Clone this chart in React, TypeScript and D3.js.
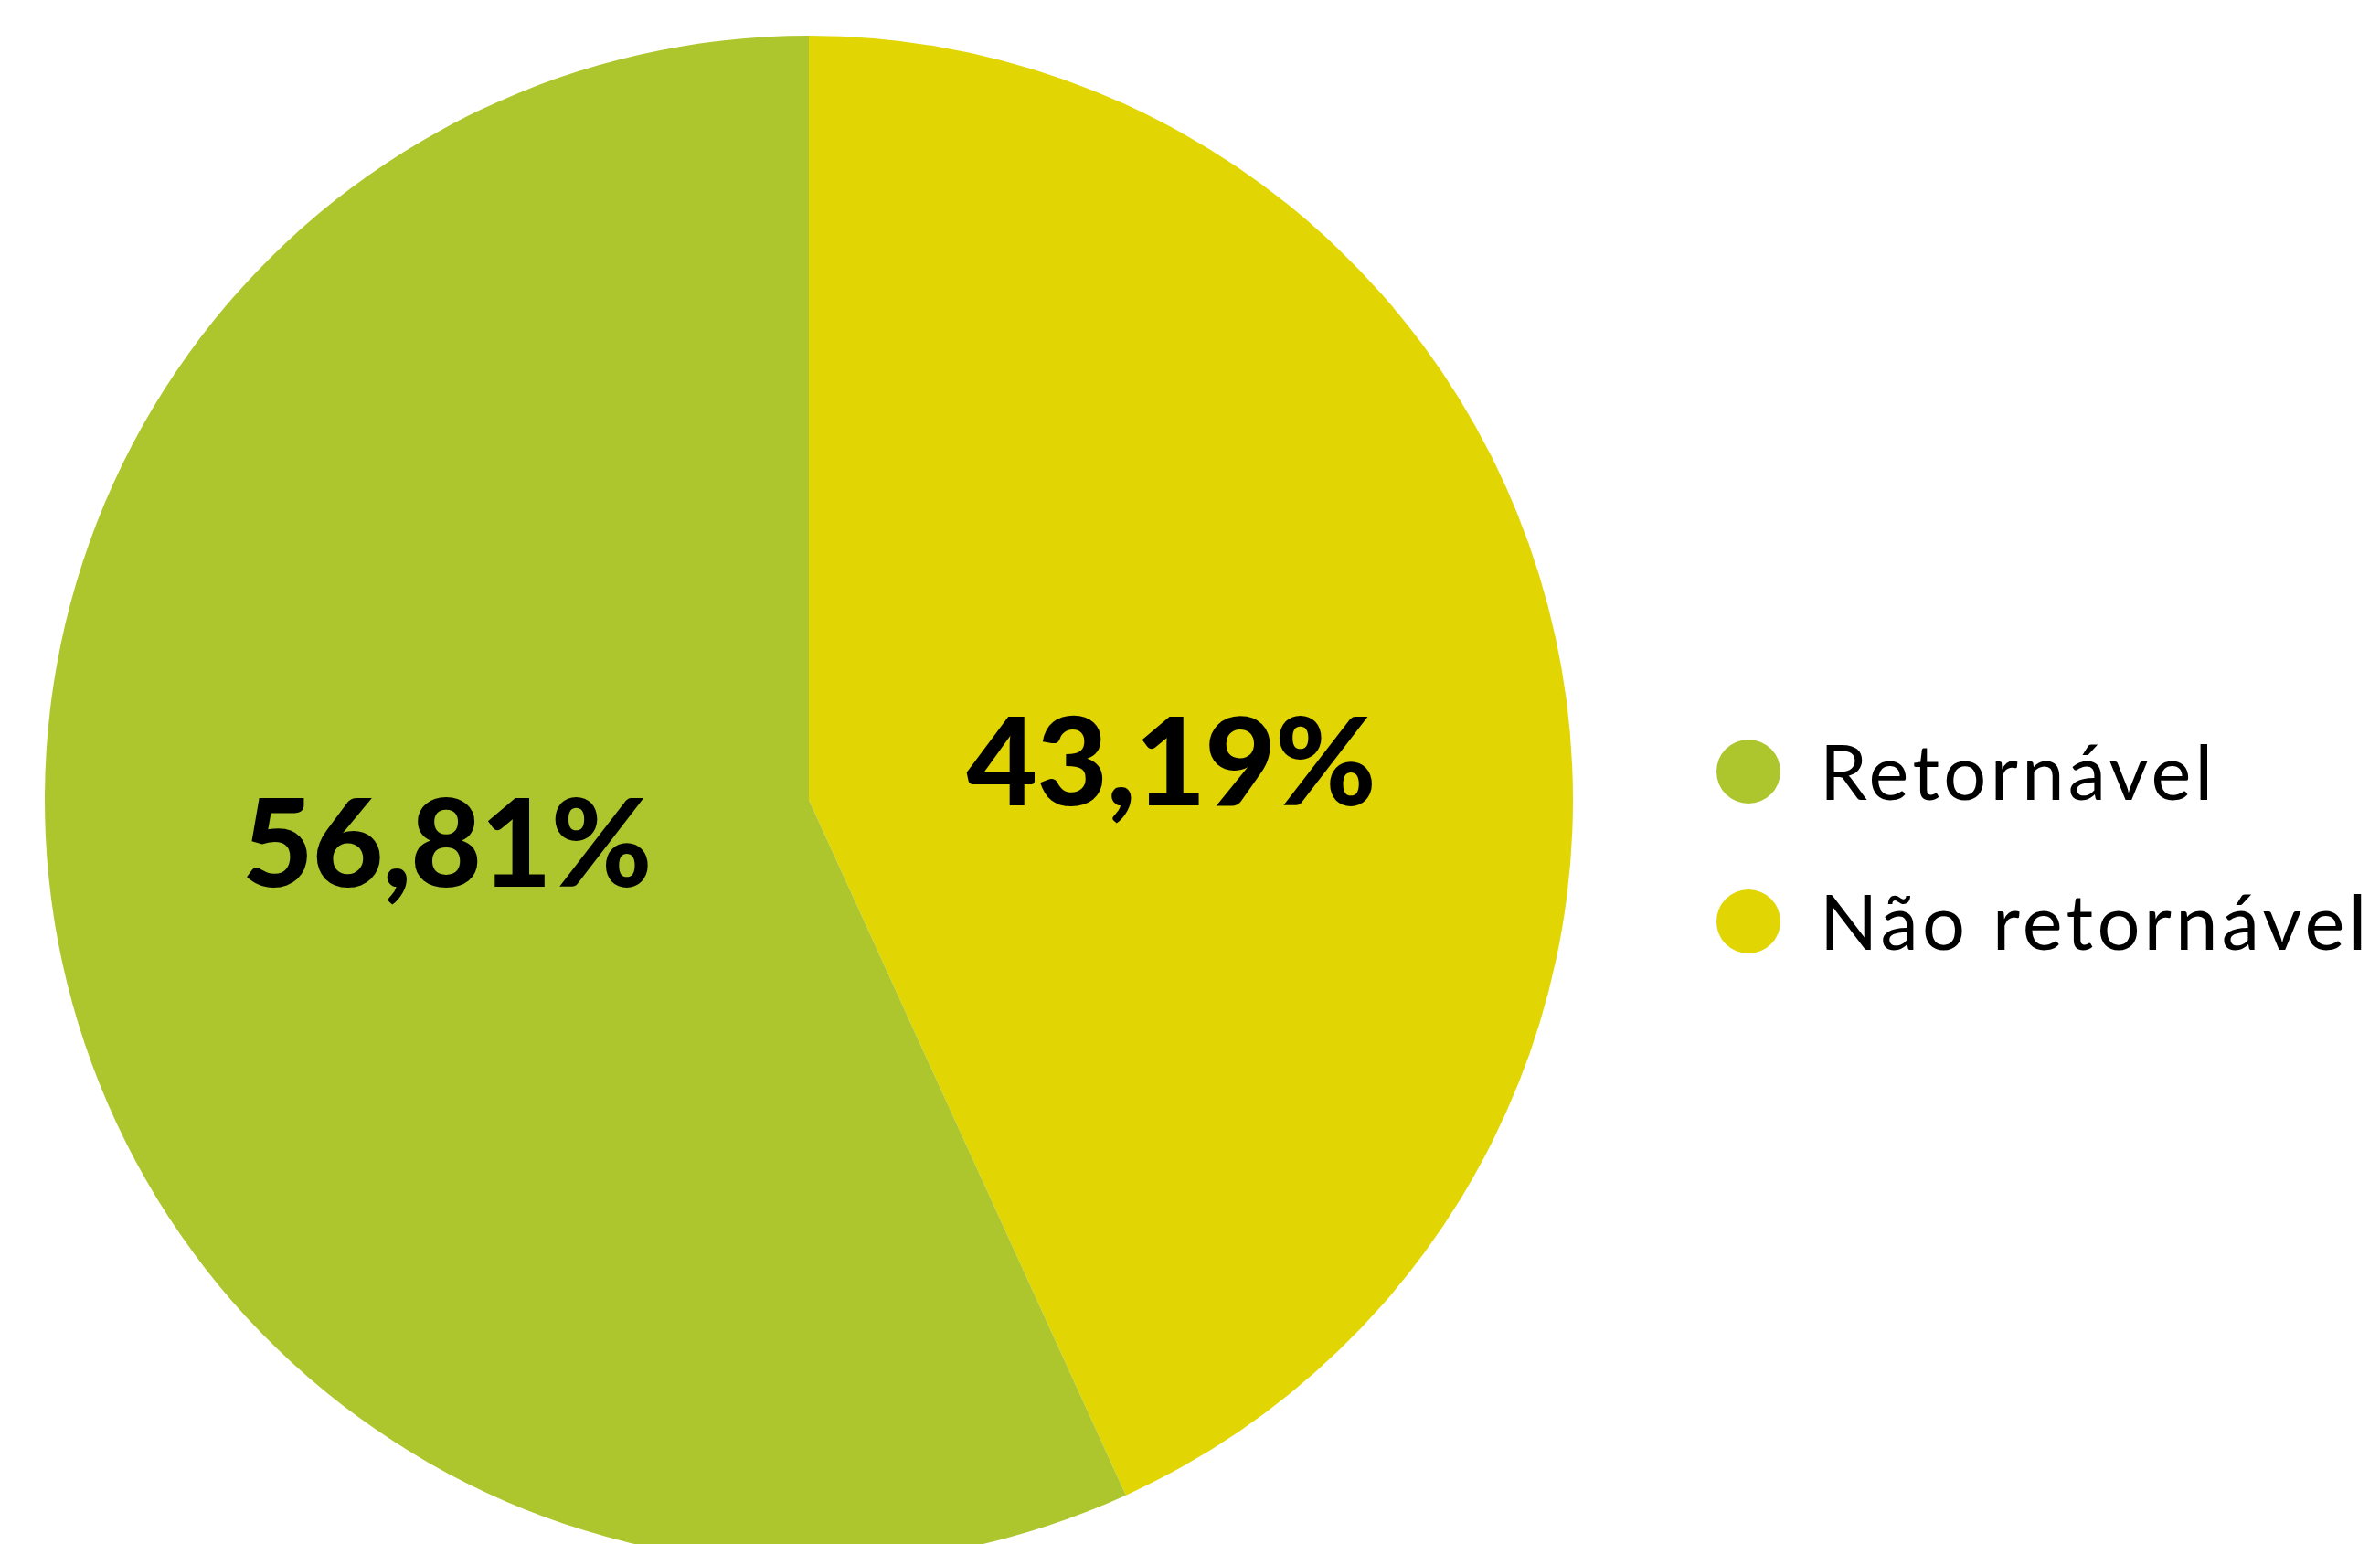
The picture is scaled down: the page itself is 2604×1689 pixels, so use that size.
import React from "react";
import * as d3 from "d3";

const categories = ["Retornável", "Não retornável"];
const values = [56.81, 43.19];
const valueLabels = ["56,81%", "43,19%"];
const colors = ["#AEC62D", "#E1D503"];

const W = 2604;
const H = 1689;
const cx = 885;
const cy = 875;
const R = 836;

export default function App() {
  const data = categories.map((c, i) => ({ c, v: values[i], label: valueLabels[i], color: colors[i], i }));
  // yellow (Não retornável) starts at 12 o'clock, clockwise
  const pie = d3
    .pie<any>()
    .value((d) => d.v)
    .sort(null);
  const arcs = pie([data[1], data[0]]);
  const arc = d3.arc<any>().innerRadius(0).outerRadius(R);
  const labelArc = d3.arc<any>().innerRadius(R * 0.97).outerRadius(0);
  const legendX = 1913;
  const legendY0 = 844;
  const legendStep = 164;

  return (
    <svg
      width={W}
      height={H}
      style={{ position: "absolute", left: 0, top: 0, background: "#fff" }}
    >
      <g transform={`translate(${cx},${cy})`}>
        {arcs.map((a) => (
          <path key={a.data.c} d={arc(a) as string} fill={a.data.color} />
        ))}
        {arcs.map((a) => {
          const [x] = labelArc.centroid(a);
          const dy = a.data.i === 1 ? -46 : 43;
          return (
            <text
              key={"l" + a.data.c}
              x={x}
              y={dy}
              textAnchor="middle"
              dominantBaseline="central"
              fontFamily="Lato"
              fontWeight={900}
              fontSize={134}
              letterSpacing={-1}
              fill="#000"
            >
              {a.data.label}
            </text>
          );
        })}
      </g>
      {data.map((d, i) => (
        <g key={"lg" + d.c} transform={`translate(${legendX},${legendY0 + i * legendStep})`}>
          <circle r={35} fill={d.color} />
          <text
            x={78}
            y={31}
            fontFamily="Lato"
            fontWeight={400}
            fontSize={83}
            letterSpacing={4.3}
            fill="#000"
          >
            {d.c}
          </text>
        </g>
      ))}
    </svg>
  );
}
